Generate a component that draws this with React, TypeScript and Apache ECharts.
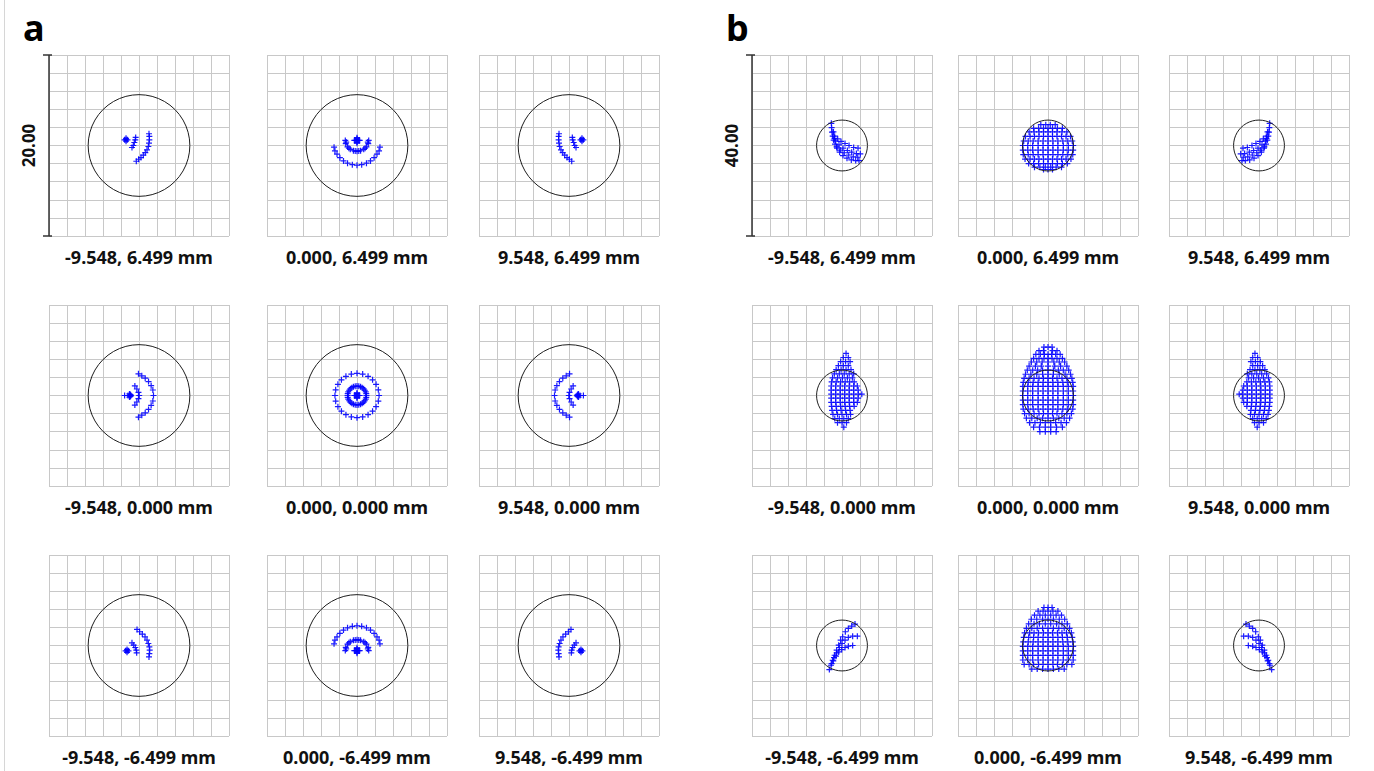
import React, { useEffect, useRef } from 'react';
import * as echarts from 'echarts';

// ---------- texts ----------
const panelNames = ['a', 'b'];
const scaleBarLabels = ['20.00', '40.00'];
const fieldLabels = [
  '-9.548, 6.499 mm', '0.000, 6.499 mm', '9.548, 6.499 mm',
  '-9.548, 0.000 mm', '0.000, 0.000 mm', '9.548, 0.000 mm',
  '-9.548, -6.499 mm', '0.000, -6.499 mm', '9.548, -6.499 mm',
];
// half range of each box (µm) for panel a and b, 10 divisions per box
const halfRange = [10, 20];
// Airy disk radius (µm)
const airyRadius = [5.65, 5.65];

// ---------- spot data, panel a (flat x,y lists, µm) ----------
const aTL = [
  -1.44, 0.63, -1.28, 0.63, -1.6, 0.63, -1.44, 0.79, -1.44, 0.47,
  -0.37, 0.89, -0.41, 0.63, -0.52, 0.33, -0.63, 0, -0.78, -0.22,
  1.11, 1.3, 1.15, 1.0, 1.15, 0.63, 1.11, 0.26, 1.04, -0.11, 0.89, -0.48, 0.7, -0.78, 0.48, -1.07, 0.22, -1.33, -0.04, -1.52, -0.3, -1.74,
];
const aTC = [
  0, 0.56, 0.18, 0.56, -0.18, 0.56, 0, 0.74, 0, 0.38, 0.3, 0.56, -0.3, 0.56, 0, 0.86, 0, 0.26,
  -1.3, 0.56, -1.25, 0.2, -1.05, -0.15, -0.75, -0.42, -0.4, -0.58, 0, -0.63, 0.4, -0.58, 0.75, -0.42, 1.05, -0.15, 1.25, 0.2, 1.3, 0.56,
  -1.2, 0.38, -0.9, -0.3, -0.2, -0.62, 0.2, -0.62, 0.9, -0.3, 1.2, 0.38,
  -2.55, -0.19, -2.45, -0.6, -2.22, -0.95, -1.9, -1.35, -1.5, -1.7, -1.05, -1.95, -0.52, -2.12, 0, -2.18, 0.52, -2.12, 1.05, -1.95, 1.5, -1.7, 1.9, -1.35, 2.22, -0.95, 2.45, -0.6, 2.55, -0.19,
];
const aTR = [
  1.44, 0.63, 1.28, 0.63, 1.6, 0.63, 1.44, 0.79, 1.44, 0.47,
  0.37, 0.89, 0.41, 0.63, 0.52, 0.33, 0.63, 0, 0.78, -0.22,
  -1.11, 1.3, -1.15, 1.0, -1.15, 0.63, -1.11, 0.26, -1.04, -0.11, -0.89, -0.48, -0.7, -0.78, -0.48, -1.07, -0.22, -1.33, 0.04, -1.52, 0.3, -1.74,
];
const aML = [
  -1.06, 0, -0.9, 0, -1.22, 0, -1.06, 0.17, -1.06, -0.17, -1.6, 0, -0.95, 0.1, -0.95, -0.1,
  -0.46, 1.06, -0.24, 0.72, -0.06, 0.35, 0.02, 0, -0.06, -0.35, -0.24, -0.72, -0.46, -1.06,
  -0.06, 2.4, 0.31, 2.17, 0.69, 1.91, 1.06, 1.54, 1.35, 1.09, 1.54, 0.61, 1.61, 0, 1.54, -0.61, 1.35, -1.09, 1.06, -1.54, 0.69, -1.91, 0.31, -2.17, -0.06, -2.4,
];
const aMC = [
  0, 0, 0.18, 0, -0.18, 0, 0, 0.18, 0, -0.18, 0.3, 0, -0.3, 0, 0, 0.3, 0, -0.3,
  1.05, 0, 0.97, 0.4, 0.74, 0.74, 0.4, 0.97, 0, 1.05, -0.4, 0.97, -0.74, 0.74, -0.97, 0.4,
  -1.05, 0, -0.97, -0.4, -0.74, -0.74, -0.4, -0.97, 0, -1.05, 0.4, -0.97, 0.74, -0.74, 0.97, -0.4,
  1.03, 0.2, 0.87, 0.58, 0.58, 0.87, 0.2, 1.03, -0.2, 1.03, -0.58, 0.87, -0.87, 0.58, -1.03, 0.2,
  -1.03, -0.2, -0.87, -0.58, -0.58, -0.87, -0.2, -1.03, 0.2, -1.03, 0.58, -0.87, 0.87, -0.58, 1.03, -0.2,
  2.45, 0, 2.37, 0.63, 2.12, 1.23, 1.73, 1.73, 1.23, 2.12, 0.63, 2.37, 0, 2.45, -0.63, 2.37,
  -1.23, 2.12, -1.73, 1.73, -2.12, 1.23, -2.37, 0.63, -2.45, 0, -2.37, -0.63, -2.12, -1.23, -1.73, -1.73,
  -1.23, -2.12, -0.63, -2.37, 0, -2.45, 0.63, -2.37, 1.23, -2.12, 1.73, -1.73, 2.12, -1.23, 2.37, -0.63,
];
const aMR = [
  1.06, 0, 0.9, 0, 1.22, 0, 1.06, 0.17, 1.06, -0.17, 1.6, 0, 0.95, 0.1, 0.95, -0.1,
  0.46, 1.06, 0.24, 0.72, 0.06, 0.35, -0.02, 0, 0.06, -0.35, 0.24, -0.72, 0.46, -1.06,
  0.06, 2.4, -0.31, 2.17, -0.69, 1.91, -1.06, 1.54, -1.35, 1.09, -1.54, 0.61, -1.61, 0, -1.54, -0.61, -1.35, -1.09, -1.06, -1.54, -0.69, -1.91, -0.31, -2.17, 0.06, -2.4,
];
const aBL = [
  -1.33, -0.59, -1.17, -0.59, -1.49, -0.59, -1.33, -0.43, -1.33, -0.75,
  -0.78, 0.3, -0.59, 0.04, -0.41, -0.22, -0.3, -0.52, -0.26, -0.81,
  -0.22, 1.78, 0.07, 1.52, 0.37, 1.26, 0.67, 0.96, 0.89, 0.59, 1.04, 0.22, 1.15, -0.15, 1.19, -0.52, 1.15, -0.89, 1.11, -1.26,
];
const aBC = [
  0, -0.56, 0.18, -0.56, -0.18, -0.56, 0, -0.38, 0, -0.74, 0.3, -0.56, -0.3, -0.56, 0, -0.26, 0, -0.86,
  -1.3, -0.56, -1.25, -0.2, -1.05, 0.15, -0.75, 0.42, -0.4, 0.58, 0, 0.63, 0.4, 0.58, 0.75, 0.42, 1.05, 0.15, 1.25, -0.2, 1.3, -0.56,
  -1.2, -0.38, -0.9, 0.3, -0.2, 0.62, 0.2, 0.62, 0.9, 0.3, 1.2, -0.38,
  -2.55, 0.19, -2.45, 0.6, -2.22, 0.95, -1.9, 1.35, -1.5, 1.7, -1.05, 1.95, -0.52, 2.12, 0, 2.18, 0.52, 2.12, 1.05, 1.95, 1.5, 1.7, 1.9, 1.35, 2.22, 0.95, 2.45, 0.6, 2.55, 0.19,
];
const aBR = [
  1.33, -0.59, 1.17, -0.59, 1.49, -0.59, 1.33, -0.43, 1.33, -0.75,
  0.78, 0.3, 0.59, 0.04, 0.41, -0.22, 0.3, -0.52, 0.26, -0.81,
  0.22, 1.78, -0.07, 1.52, -0.37, 1.26, -0.67, 0.96, -0.89, 0.59, -1.04, 0.22, -1.15, -0.15, -1.19, -0.52, -1.15, -0.89, -1.11, -1.26,
];

// ---------- spot data, panel b (µm) ----------
const bTL = [
  -2.37, 4.89, -2.3, 3.93, -2.22, 2.96, -2.07, 2.07, -1.85, 1.19, -1.56, 0.3, -1.11, -0.59, -0.52, -1.48, 0.22, -2.22, 1.11, -2.81, 2.07, -3.19, 3.04, -3.33, 3.78, -3.33,
  -1.63, 2.07, -0.96, 1.48, -0.22, 0.89, 0.67, 0.44, 1.56, 0, 2.59, -0.44, 3.56, -0.59,
  -1.41, 0.96, -0.67, 0.15, 0.22, -0.59, 1.19, -1.11, 2.15, -1.48, 3.19, -1.78, 4.07, -1.85,
  -1.9, 3, -1.7, 1.6, -1.2, -0.3, -0.4, -1.0, 0.5, -1.6, 1.5, -2.1, 2.5, -2.5, 3.5, -2.6,
];
const bTR = [
  2.37, 4.89, 2.3, 3.93, 2.22, 2.96, 2.07, 2.07, 1.85, 1.19, 1.56, 0.3, 1.11, -0.59, 0.52, -1.48, -0.22, -2.22, -1.11, -2.81, -2.07, -3.19, -3.04, -3.33, -3.78, -3.33,
  1.63, 2.07, 0.96, 1.48, 0.22, 0.89, -0.67, 0.44, -1.56, 0, -2.59, -0.44, -3.56, -0.59,
  1.41, 0.96, 0.67, 0.15, -0.22, -0.59, -1.19, -1.11, -2.15, -1.48, -3.19, -1.78, -4.07, -1.85,
  1.9, 3, 1.7, 1.6, 1.2, -0.3, 0.4, -1.0, -0.5, -1.6, -1.5, -2.1, -2.5, -2.5, -3.5, -2.6,
];
const bBL = [
  -2.81, -5.33, -2.44, -4.37, -2.07, -3.26, -1.63, -2.15, -1.19, -1.04, -0.74, 0.07, -0.3, 1.19, 0.15, 1.93, 0.74, 3.04, 1.41, 3.78, 2.15, 4.3, 2.89, 4.74,
  -2.3, -4.0, -1.78, -2.67, -1.19, -1.63, -0.59, -0.44, 0, 0.44, 0.67, 1.19, 1.41, 1.78, 2.37, 2.07, 3.41, 2.07,
  -1.93, -3.41, -1.33, -2.37, -0.74, -1.41, -0.07, -0.89, 0.67, -0.44, 1.41, -0.15, 2.37, 0,
];
const bBR = [
  2.81, -5.33, 2.44, -4.37, 2.07, -3.26, 1.63, -2.15, 1.19, -1.04, 0.74, 0.07, 0.3, 1.19, -0.15, 1.93, -0.74, 3.04, -1.41, 3.78, -2.15, 4.3, -2.89, 4.74,
  2.3, -4.0, 1.78, -2.67, 1.19, -1.63, 0.59, -0.44, 0, 0.44, -0.67, 1.19, -1.41, 1.78, -2.37, 2.07, -3.41, 2.07,
  1.93, -3.41, 1.33, -2.37, 0.74, -1.41, 0.07, -0.89, -0.67, -0.44, -1.41, -0.15, -2.37, 0,
];
// dense spots as rows: [y, [x values]]
type Row = [number, number[]];
const bTC: Row[] = [
  [4.6, [-1.6, -0.5, 0.5, 1.6]],
  [3.8, [-3.2, -2.1, -1, 0, 1, 2.1, 3.2]],
  [3, [-4.2, -3.1, -2, -1, 0, 1, 2, 3.1, 4.2]],
  [2, [-5, -4, -3, -2, -1, 0, 1, 2, 3, 4, 5]],
  [1, [-5.4, -4.4, -3.3, -2.2, -1.1, 0, 1.1, 2.2, 3.3, 4.4, 5.4]],
  [0, [-5.6, -4.5, -3.4, -2.2, -1.1, 0, 1.1, 2.2, 3.4, 4.5, 5.6]],
  [-1, [-5.6, -4.5, -3.4, -2.2, -1.1, 0, 1.1, 2.2, 3.4, 4.5, 5.6]],
  [-2, [-5.5, -4.4, -3.3, -2.2, -1.1, 0, 1.1, 2.2, 3.3, 4.4, 5.5]],
  [-3, [-5.1, -4, -3, -2, -1, 0, 1, 2, 3, 4, 5.1]],
  [-4, [-4.3, -3.2, -2.1, -1, 0, 1, 2.1, 3.2, 4.3]],
  [-4.8, [-3, -1.8, -0.6, 0.6, 1.8, 3]],
  [-5.3, [-1, 0, 1]],
];
const bML: Row[] = [
  [9.3, [0.9]],
  [8.4, [0.3, 1.4]],
  [7.5, [-0.3, 0.8, 1.8]],
  [6.6, [-0.8, 0.3, 1.4]],
  [5.7, [-1.3, -0.2, 0.9, 2.0]],
  [4.8, [-1.7, -0.6, 0.5, 1.6, 2.6]],
  [3.9, [-2.1, -1, 0.1, 1.2, 2.3]],
  [3, [-2.3, -1.3, -0.3, 0.7, 1.7, 2.7]],
  [2.1, [-2.4, -1.4, -0.4, 0.6, 1.6, 2.6, 3.4]],
  [1.2, [-2.4, -1.4, -0.4, 0.6, 1.6, 2.6, 3.6]],
  [0.3, [-2.4, -1.4, -0.4, 0.6, 1.6, 2.6, 3.6, 4.4]],
  [-0.6, [-2.4, -1.4, -0.4, 0.6, 1.6, 2.6, 3.6]],
  [-1.5, [-2.4, -1.4, -0.4, 0.6, 1.6, 2.6, 3.4]],
  [-2.4, [-2.3, -1.3, -0.3, 0.7, 1.7, 2.7]],
  [-3.3, [-2.2, -1.2, -0.2, 0.8, 1.8]],
  [-4.2, [-2, -1, 0, 1, 1.9]],
  [-5.1, [-1.6, -0.6, 0.4, 1.4]],
  [-6, [-1, 0, 1]],
  [-7, [0.4]],
];
const bMC: Row[] = [
  [10.7, [-0.9, 0, 0.9]],
  [9.9, [-2, -1, 1, 2]],
  [9.1, [-2.7, -1.7, -0.8, 0, 0.8, 1.7, 2.7]],
  [8.2, [-3.2, -2, -0.9, 0, 0.9, 2, 3.2]],
  [7.4, [-3.7, -2.5, -1.3, 0, 1.3, 2.5, 3.7]],
  [6.5, [-4.2, -2.8, -1.5, 0, 1.5, 2.8, 4.2]],
  [5.6, [-4.6, -3.4, -2.3, -1.2, 0, 1.2, 2.3, 3.4, 4.6]],
  [4.7, [-5, -3.8, -2.5, -1.2, 0, 1.2, 2.5, 3.8, 5]],
  [3.8, [-5.3, -4.2, -3.1, -2, -1, 0, 1, 2, 3.1, 4.2, 5.3]],
  [2.9, [-5.5, -4.4, -3.3, -2.2, -1.1, 0, 1.1, 2.2, 3.3, 4.4, 5.5]],
  [2, [-5.6, -4.5, -3.4, -2.2, -1.1, 0, 1.1, 2.2, 3.4, 4.5, 5.6]],
  [1, [-5.6, -4.5, -3.4, -2.2, -1.1, 0, 1.1, 2.2, 3.4, 4.5, 5.6]],
  [0, [-5.6, -4.5, -3.4, -2.2, -1.1, 0, 1.1, 2.2, 3.4, 4.5, 5.6]],
  [-1, [-5.6, -4.5, -3.4, -2.2, -1.1, 0, 1.1, 2.2, 3.4, 4.5, 5.6]],
  [-2, [-5.6, -4.5, -3.4, -2.2, -1.1, 0, 1.1, 2.2, 3.4, 4.5, 5.6]],
  [-3, [-5.5, -4.4, -3.3, -2.2, -1.1, 0, 1.1, 2.2, 3.3, 4.4, 5.5]],
  [-4, [-5.2, -4.2, -3.1, -2, -1, 0, 1, 2, 3.1, 4.2, 5.2]],
  [-5, [-4.8, -3.6, -2.4, -1.2, 0, 1.2, 2.4, 3.6, 4.8]],
  [-6, [-4.1, -2.9, -1.7, -0.6, 0.6, 1.7, 2.9, 4.1]],
  [-7, [-3.2, -1.9, -0.6, 0.6, 1.9, 3.2]],
  [-8, [-1.8, -0.6, 0.6, 1.8]],
];
const bMR: Row[] = [
  [9.3, [-0.9]],
  [8.4, [-0.3, -1.4]],
  [7.5, [0.3, -0.8, -1.8]],
  [6.6, [0.8, -0.3, -1.4]],
  [5.7, [1.3, 0.2, -0.9, -2.0]],
  [4.8, [1.7, 0.6, -0.5, -1.6, -2.6]],
  [3.9, [2.1, 1, -0.1, -1.2, -2.3]],
  [3, [2.3, 1.3, 0.3, -0.7, -1.7, -2.7]],
  [2.1, [2.4, 1.4, 0.4, -0.6, -1.6, -2.6, -3.4]],
  [1.2, [2.4, 1.4, 0.4, -0.6, -1.6, -2.6, -3.6]],
  [0.3, [2.4, 1.4, 0.4, -0.6, -1.6, -2.6, -3.6, -4.4]],
  [-0.6, [2.4, 1.4, 0.4, -0.6, -1.6, -2.6, -3.6]],
  [-1.5, [2.4, 1.4, 0.4, -0.6, -1.6, -2.6, -3.4]],
  [-2.4, [2.3, 1.3, 0.3, -0.7, -1.7, -2.7]],
  [-3.3, [2.2, 1.2, 0.2, -0.8, -1.8]],
  [-4.2, [2, 1, 0, -1, -1.9]],
  [-5.1, [1.6, 0.6, -0.4, -1.4]],
  [-6, [1, 0, -1]],
  [-7, [-0.4]],
];
const bBC: Row[] = [
  [8.4, [-0.9, 0, 0.9]],
  [7.6, [-2.2, -1.1, 0, 1.1, 2.2]],
  [6.7, [-3, -1.8, -0.6, 0.6, 1.8, 3]],
  [5.8, [-3.7, -2.5, -1.2, 0, 1.2, 2.5, 3.7]],
  [4.8, [-4.3, -3.1, -1.9, -0.6, 0.6, 1.9, 3.1, 4.3]],
  [3.8, [-4.8, -3.6, -2.4, -1.2, 0, 1.2, 2.4, 3.6, 4.8]],
  [2.8, [-5.2, -4.1, -3.1, -2.1, -1, 0, 1, 2.1, 3.1, 4.1, 5.2]],
  [1.8, [-5.4, -4.3, -3.2, -2.2, -1.1, 0, 1.1, 2.2, 3.2, 4.3, 5.4]],
  [0.8, [-5.5, -4.4, -3.3, -2.2, -1.1, 0, 1.1, 2.2, 3.3, 4.4, 5.5]],
  [-0.2, [-5.6, -4.5, -3.4, -2.2, -1.1, 0, 1.1, 2.2, 3.4, 4.5, 5.6]],
  [-1.2, [-5.6, -4.5, -3.4, -2.2, -1.1, 0, 1.1, 2.2, 3.4, 4.5, 5.6]],
  [-2.2, [-5.6, -4.5, -3.4, -2.2, -1.1, 0, 1.1, 2.2, 3.4, 4.5, 5.6]],
  [-3.2, [-5.6, -4.5, -3.4, -2.2, -1.1, 0, 1.1, 2.2, 3.4, 4.5, 5.6]],
  [-4.2, [-5.3, -4.2, -3.2, -2.1, -1.1, 0, 1.1, 2.1, 3.2, 4.2, 5.3]],
  [-5.2, [-3.6, -2.4, -1.2, 0, 1.2, 2.4, 3.6]],
];

// ---------- helpers to turn the lists into point pairs ----------
const pairs = (flat: number[]) => {
  const out: number[][] = [];
  for (let i = 0; i < flat.length; i += 2) out.push([flat[i], flat[i + 1]]);
  return out;
};
const fromRows = (rows: Row[]) => rows.flatMap(([y, xs]) => xs.map((x) => [x, y]));

const spots: number[][][] = [
  pairs(aTL), pairs(aTC), pairs(aTR),
  pairs(aML), pairs(aMC), pairs(aMR),
  pairs(aBL), pairs(aBC), pairs(aBR),
  pairs(bTL), fromRows(bTC), pairs(bTR),
  fromRows(bML), fromRows(bMC), fromRows(bMR),
  pairs(bBL), fromRows(bBC), pairs(bBR),
];

// ---------- layout ----------
const colLeft = [[49, 267, 479], [752, 958, 1169]];
const rowTop = [55, 305, 555];
const GW = 180;
const GH = 181;
const FONT = '"Noto Sans", "Open Sans", sans-serif';
const CROSS = 'path://M0,4H4V0H6V4H10V6H6V10H4V6H0Z';

function buildOption() {
  const grid: any[] = [];
  const xAxis: any[] = [];
  const yAxis: any[] = [];
  const series: any[] = [];
  const graphic: any[] = [];

  graphic.push({
    type: 'line', shape: { x1: 4.5, y1: 0, x2: 4.5, y2: 771 },
    style: { stroke: '#d6d6d6', lineWidth: 1 }, silent: true,
  });

  for (let p = 0; p < 2; p++) {
    const R = halfRange[p];
    for (let r = 0; r < 3; r++) {
      for (let c = 0; c < 3; c++) {
        const i = p * 9 + r * 3 + c;
        const left = colLeft[p][c];
        const top = rowTop[r];
        grid.push({ left, top, width: GW, height: GH, containLabel: false });
        const axisCommon = {
          type: 'value', min: -R, max: R, interval: R / 5,
          axisLine: { show: false }, axisTick: { show: false }, axisLabel: { show: false },
          splitLine: { show: true, lineStyle: { color: '#c8c8c8', width: 1 } },
        };
        xAxis.push({ ...axisCommon, gridIndex: i });
        yAxis.push({ ...axisCommon, gridIndex: i });
        series.push({
          type: 'scatter', xAxisIndex: i, yAxisIndex: i, data: spots[i],
          symbol: CROSS, symbolSize: 6,
          itemStyle: { color: '#0000ff', opacity: 0.9 }, silent: true, z: 2,
        });
        series.push({
          type: 'custom', xAxisIndex: i, yAxisIndex: i, silent: true, z: 3,
          data: [[0, 0, airyRadius[p]]],
          encode: { x: 0, y: 1 },
          renderItem: (_params: any, api: any) => {
            const ctr = api.coord([api.value(0), api.value(1)]);
            const sz = api.size([api.value(2), api.value(2)]);
            return {
              type: 'circle',
              shape: { cx: ctr[0], cy: ctr[1], r: sz[0] },
              style: { fill: 'none', stroke: '#1e1e1e', lineWidth: 1 },
            };
          },
        });
        graphic.push({
          type: 'text', x: left + GW / 2, y: top + GH + 21, silent: true,
          style: {
            text: fieldLabels[r * 3 + c], fontSize: 18, fontWeight: 'bold', fontFamily: FONT,
            fill: '#111', align: 'center', verticalAlign: 'middle',
          },
        });
      }
    }
    // panel letter
    const x0 = colLeft[p][0];
    graphic.push({
      type: 'text', x: x0 - 26, y: 27, silent: true,
      style: {
        text: panelNames[p], fontSize: 36, fontWeight: 'bold', fontFamily: FONT,
        fill: '#000', align: 'left', verticalAlign: 'middle',
      },
    });
    // scale bar
    const y0 = rowTop[0];
    const y1 = rowTop[0] + GH;
    const bar = { stroke: '#333', lineWidth: 1.5 };
    graphic.push({ type: 'line', shape: { x1: x0, y1: y0, x2: x0, y2: y1 }, style: bar, silent: true, z: 10 });
    graphic.push({ type: 'line', shape: { x1: x0 - 6, y1: y0, x2: x0 + 3, y2: y0 }, style: bar, silent: true, z: 10 });
    graphic.push({ type: 'line', shape: { x1: x0 - 6, y1: y1, x2: x0 + 3, y2: y1 }, style: bar, silent: true, z: 10 });
    graphic.push({
      type: 'text', x: x0 - 21, y: (y0 + y1) / 2, rotation: Math.PI / 2, silent: true,
      style: {
        text: scaleBarLabels[p], fontSize: 17, fontWeight: 'bold', fontFamily: FONT,
        fill: '#111', align: 'center', verticalAlign: 'middle',
      },
    });
  }

  return {
    animation: false,
    backgroundColor: '#ffffff',
    grid, xAxis, yAxis, series, graphic,
  };
}

export default function App() {
  const ref = useRef<HTMLDivElement>(null);
  useEffect(() => {
    if (!ref.current) return;
    const chart = echarts.init(ref.current, null, { renderer: 'svg' });
    chart.setOption(buildOption() as any);
    return () => chart.dispose();
  }, []);
  return (
    <div
      ref={ref}
      style={{ position: 'absolute', left: 0, top: 0, width: 1374, height: 771, background: '#fff' }}
    />
  );
}
